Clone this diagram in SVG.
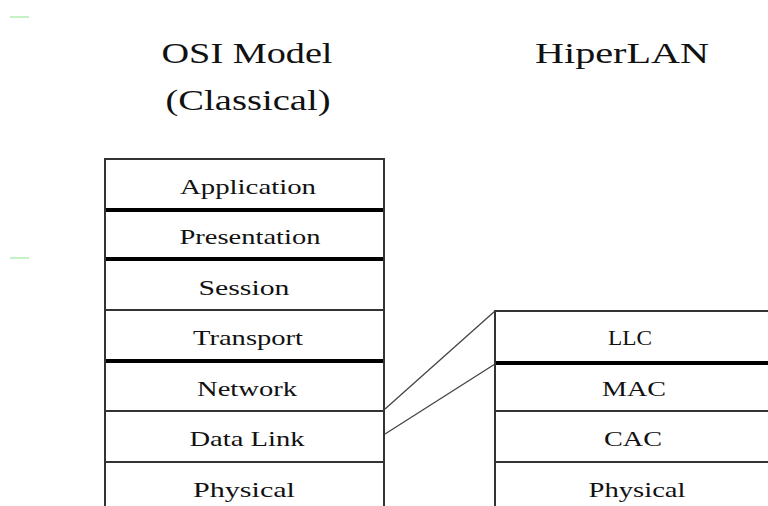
<svg xmlns="http://www.w3.org/2000/svg" width="768" height="506" viewBox="0 0 768 506">
  <style>
    .title { font-family: "Liberation Serif", "Times New Roman", serif; font-size: 30px; fill: #111; text-anchor: middle; }
    .lbl { font-family: "Liberation Serif", "Times New Roman", serif; font-size: 22px; fill: #111; text-anchor: middle; }
    .cell { fill: #fff; stroke: none; }
    .thin { stroke: #333; stroke-width: 2; }
    .thick { stroke: #000; stroke-width: 4; }
    .side { stroke: #333; stroke-width: 2; fill: none; }
    .link { stroke: #444; stroke-width: 1.3; fill: none; }
    .tick { stroke: #c4f2c4; stroke-width: 2; }
  </style>
  <rect width="768" height="506" fill="#fff"/>

  <!-- bullet ticks in the margin -->
  <line class="tick" x1="10" y1="17" x2="29" y2="17"/>
  <line class="tick" x1="10" y1="258" x2="29" y2="258"/>

  <!-- column headings -->
  <text class="title" x="247" y="63" textLength="171" lengthAdjust="spacingAndGlyphs">OSI Model</text>
  <text class="title" x="248" y="110" textLength="165" lengthAdjust="spacingAndGlyphs">(Classical)</text>
  <text class="title" x="622" y="63" textLength="174" lengthAdjust="spacingAndGlyphs">HiperLAN</text>

  <!-- OSI stack -->
  <g id="osi-application">
    <rect class="cell" x="105" y="159" width="279" height="51"/>
    <line class="thin" x1="104" y1="159" x2="385" y2="159"/>
    <text class="lbl" x="248" y="194" textLength="136" lengthAdjust="spacingAndGlyphs">Application</text>
  </g>
  <g id="osi-presentation">
    <rect class="cell" x="105" y="210" width="279" height="49"/>
    <line class="thick" x1="104" y1="210" x2="385" y2="210"/>
    <text class="lbl" x="250" y="244" textLength="141" lengthAdjust="spacingAndGlyphs">Presentation</text>
  </g>
  <g id="osi-session">
    <rect class="cell" x="105" y="259" width="279" height="51"/>
    <line class="thick" x1="104" y1="259" x2="385" y2="259"/>
    <text class="lbl" x="244" y="295" textLength="91" lengthAdjust="spacingAndGlyphs">Session</text>
  </g>
  <g id="osi-transport">
    <rect class="cell" x="105" y="310" width="279" height="51"/>
    <line class="thin" x1="104" y1="310" x2="385" y2="310"/>
    <text class="lbl" x="248" y="345" textLength="110" lengthAdjust="spacingAndGlyphs">Transport</text>
  </g>
  <g id="osi-network">
    <rect class="cell" x="105" y="361" width="279" height="50"/>
    <line class="thick" x1="104" y1="361" x2="385" y2="361"/>
    <text class="lbl" x="247" y="396" textLength="100" lengthAdjust="spacingAndGlyphs">Network</text>
  </g>
  <g id="osi-datalink">
    <rect class="cell" x="105" y="411" width="279" height="51"/>
    <line class="thin" x1="104" y1="411" x2="385" y2="411"/>
    <text class="lbl" x="247" y="446" textLength="115" lengthAdjust="spacingAndGlyphs">Data Link</text>
  </g>
  <g id="osi-physical">
    <rect class="cell" x="105" y="462" width="279" height="44"/>
    <line class="thin" x1="104" y1="462" x2="385" y2="462"/>
    <text class="lbl" x="244" y="497" textLength="102" lengthAdjust="spacingAndGlyphs">Physical</text>
  </g>
  <g id="osi-frame">
    <line class="side" x1="105" y1="158" x2="105" y2="506"/>
    <line class="side" x1="384" y1="158" x2="384" y2="506"/>
  </g>

  <!-- HiperLAN stack -->
  <g id="hl-llc">
    <rect class="cell" x="495" y="311" width="273" height="52"/>
    <line class="thin" x1="494" y1="311" x2="768" y2="311"/>
    <text class="lbl" x="630" y="345" textLength="44" lengthAdjust="spacingAndGlyphs">LLC</text>
  </g>
  <g id="hl-mac">
    <rect class="cell" x="495" y="363" width="273" height="48"/>
    <line class="thick" x1="494" y1="363" x2="768" y2="363"/>
    <text class="lbl" x="634" y="396" textLength="64" lengthAdjust="spacingAndGlyphs">MAC</text>
  </g>
  <g id="hl-cac">
    <rect class="cell" x="495" y="411" width="273" height="51"/>
    <line class="thin" x1="494" y1="411" x2="768" y2="411"/>
    <text class="lbl" x="633" y="446" textLength="58" lengthAdjust="spacingAndGlyphs">CAC</text>
  </g>
  <g id="hl-physical">
    <rect class="cell" x="495" y="462" width="273" height="44"/>
    <line class="thin" x1="494" y1="462" x2="768" y2="462"/>
    <text class="lbl" x="637" y="497" textLength="97" lengthAdjust="spacingAndGlyphs">Physical</text>
  </g>
  <g id="hl-frame">
    <line class="side" x1="495" y1="310" x2="495" y2="506"/>
  </g>

  <!-- mapping of the data link layer onto LLC + MAC -->
  <g id="connectors">
    <line class="link" x1="385" y1="409" x2="495" y2="311"/>
    <line class="link" x1="385" y1="434" x2="495" y2="364"/>
  </g>
</svg>
